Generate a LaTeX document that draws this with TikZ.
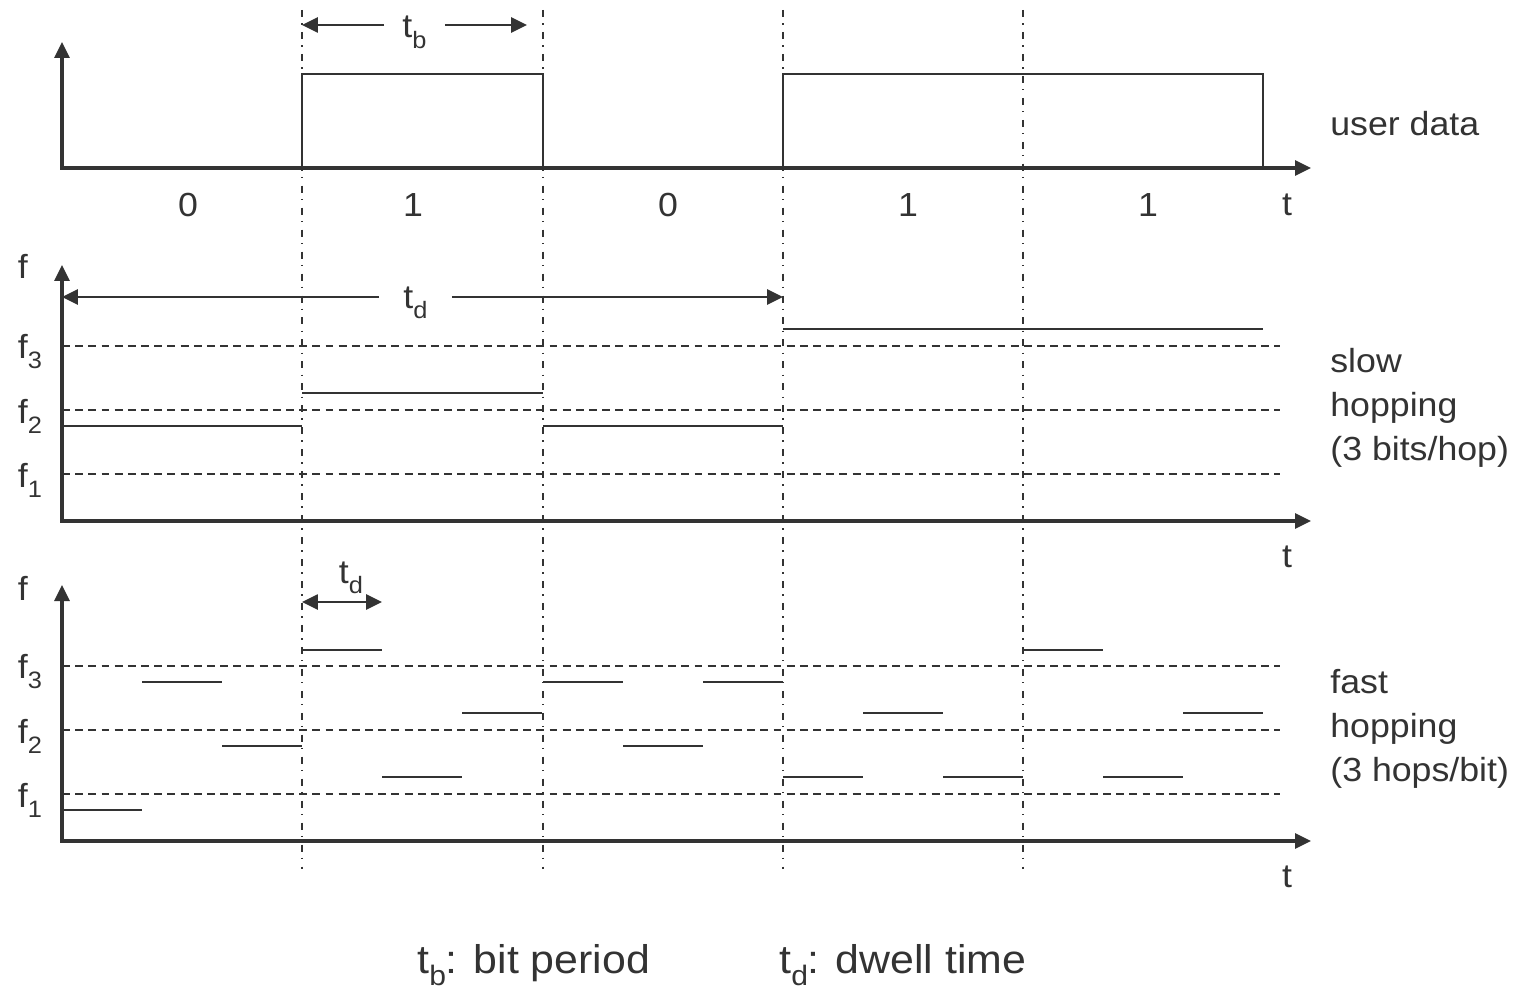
\documentclass[tikz,border=0pt]{standalone}
\usepackage{fontspec}
\setmainfont{Liberation Sans}[FakeStretch=1.07]
\usepackage{xcolor}
\usetikzlibrary{arrows.meta}
\definecolor{ink}{HTML}{333333}
\newcommand{\lo}[2][13.5]{\raisebox{-.3em}{\fontsize{#1}{#1}\selectfont #2}}

\begin{document}
\begin{tikzpicture}[x=0.02cm, y=-0.02cm, >={Triangle[length=0.32cm,width=0.3cm]},
    every node/.style={text=ink, inner sep=0pt, font=\fontsize{19}{25.2}\selectfont},
    axis/.style={draw=ink, line width=1.8pt},
    sig/.style={draw=ink, line width=1.1pt},
    level/.style={draw=ink, line width=1pt, dash pattern=on 4.5pt off 3pt},
    bitline/.style={draw=ink, line width=0.9pt, dash pattern=on 4pt off 3.5pt on 0.8pt off 4.2pt},
    dim/.style={draw=ink, line width=1.5pt},
    key/.style={anchor=base west, font=\fontsize{22.8}{27}\selectfont}]
    \useasboundingbox (0,0) rectangle (1519,990);
    \foreach \x in {302,543,783,1023}
        \draw[bitline] (\x,10) -- (\x,869);
    \foreach \y in {346,410,474,666,730,794}
        \draw[level] (62,\y) -- (1280,\y);

    \draw[axis, <->] (62,42) |- (1311,168);
    \draw[axis, <->] (62,265) |- (1311,521);
    \draw[axis, <->] (62,585) |- (1311,841);

    \draw[sig] (302,168) -- (302,74) -- (543,74) -- (543,168);
    \draw[sig] (783,168) -- (783,74) -- (1263,74) -- (1263,168);
    \foreach \a/\b/\y in {62/302/426, 302/543/393, 543/783/426, 783/1263/329}
        \draw[sig] (\a,\y) -- (\b,\y);
    \foreach \a/\y in {62/810, 142/682, 222/746, 302/650, 382/777, 462/713, 543/682, 623/746,
                       703/682, 783/777, 863/713, 943/777, 1023/650, 1103/777, 1183/713}
        \draw[sig] (\a,\y) -- ++(80,0);

    \foreach \x/\b in {188/0, 413/1, 668/0, 908/1, 1148/1}
        \node[anchor=base] (bit\x) at (\x,216) {\b};
    \node[anchor=base] (tA) at (1287,215) {t};
    \node[anchor=base] (tB) at (1287,567) {t};
    \node[anchor=base] (tC) at (1287,887) {t};
    \node[anchor=base west] (fB) at (17.5,278) {f};
    \node[anchor=base west] (fC) at (17.5,600) {f};
    \foreach \y/\i in {358/3, 423/2, 487/1}
        \node[anchor=base west] (fs\i) at (17.5,\y) {f\lo{\i}};
    \foreach \y/\i in {678/3, 743/2, 807/1}
        \node[anchor=base west] (ff\i) at (17.5,\y) {f\lo{\i}};

    \node[anchor=base west] (user) at (1330,135) {user data};
    \node[anchor=west, align=left] (slow) at (1330,408) {slow\\hopping\\(3 bits/hop)};
    \node[anchor=west, align=left] (fast) at (1330,729) {fast\\hopping\\(3 hops/bit)};

    \node[anchor=base, inner xsep=0.36cm] (tb) at (414.5,38) {t\lo{b}};
    \coordinate (tbL) at (302,25);
    \coordinate (tbR) at (527,25);
    \draw[dim, ->] (tb.west |- tbL) -- (tbL);
    \draw[dim, ->] (tb.east |- tbR) -- (tbR);

    \node[anchor=base, inner xsep=0.48cm] (td) at (415.5,308) {t\lo{d}};
    \coordinate (tdL) at (62,297);
    \coordinate (tdR) at (783,297);
    \draw[dim, ->] (td.west |- tdL) -- (tdL);
    \draw[dim, ->] (td.east |- tdR) -- (tdR);

    \node[anchor=base] (tds) at (351,583) {t\lo{d}};
    \coordinate (tdsA) at (302,602);
    \coordinate (tdsB) at (382,602);
    \draw[dim, <->] (tdsA) -- (tdsB);

    \node[key] (keyb) at (417,973) {t\lo[16]{b}: bit period};
    \node[key] (keyd) at (779,973) {t\lo[16]{d}: dwell time};
\end{tikzpicture}
\end{document}
